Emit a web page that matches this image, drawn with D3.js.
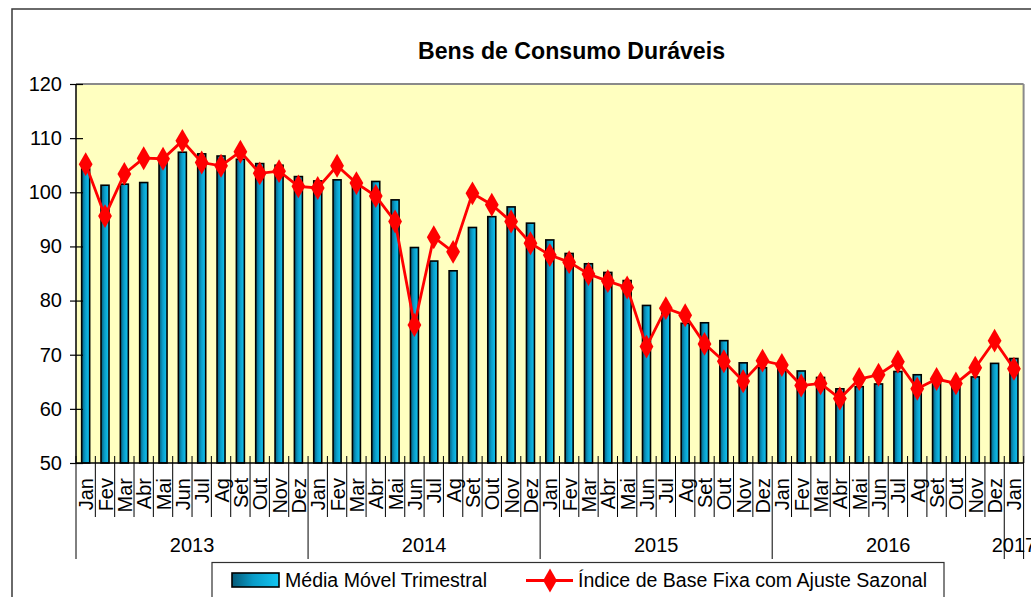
<!DOCTYPE html>
<html><head><meta charset="utf-8">
<script src="https://cdn.jsdelivr.net/npm/d3@7"></script>
<style>
html,body{margin:0;padding:0;background:#fff;}
svg{display:block;font-family:"Liberation Sans",Arial,sans-serif;}
</style></head>
<body>
<svg id="c" width="1031" height="597"></svg>
<script>
const title = "Bens de Consumo Duráveis";
const monthNames = ["Jan","Fev","Mar","Abr","Mai","Jun","Jul","Ag","Set","Out","Nov","Dez"];
const years = ["2013","2014","2015","2016","2017"];
const yTicks = [50,60,70,80,90,100,110,120];
const seriesBarName = "Média Móvel Trimestral";
const seriesLineName = "Índice de Base Fixa com Ajuste Sazonal";
const mediaMovel = [
  104.3,101.3,101.5,101.8,105.5,107.4,107.1,106.7,106.1,105.3,105.0,102.9,
  102.1,102.3,101.8,102.0,98.6,89.8,87.3,85.5,93.5,95.5,97.3,94.3,
  91.2,88.7,86.8,85.2,83.7,79.1,77.7,75.8,75.9,72.6,68.5,67.6,
  67.5,67.0,65.8,63.7,64.1,64.6,66.9,66.3,65.2,64.5,65.9,68.4,
  69.3];
const indice = [
  105.2,95.6,103.4,106.3,106.2,109.5,105.5,104.9,107.5,103.5,103.9,101.1,
  100.8,104.9,101.7,99.3,94.6,75.5,91.7,89.0,99.8,97.7,94.6,90.6,
  88.4,87.1,84.9,83.6,82.4,71.5,78.6,77.3,72.0,68.8,65.1,68.9,
  68.1,64.3,64.7,61.9,65.5,66.3,68.7,63.7,65.5,64.7,67.6,72.6,
  67.4];

// categories built from the arrays
const cats = [];
years.forEach((y,yi)=>{
  const n = yi < years.length-1 ? 12 : 1;
  for(let m=0;m<n;m++) cats.push({year:y, month:monthNames[m], i:cats.length});
});

const svg = d3.select("#c");
const L=76, R=1023.6, T=84, B=463;
const x = d3.scaleBand().domain(cats.map(d=>d.i)).range([L,R]).padding(0);
const y = d3.scaleLinear().domain([50,120]).range([B,T]);

const defs = svg.append("defs");
const g1 = defs.append("linearGradient").attr("id","barg").attr("x1","0").attr("x2","1").attr("y1","0").attr("y2","0");
g1.append("stop").attr("offset","0%").attr("stop-color","#065a78");
g1.append("stop").attr("offset","45%").attr("stop-color","#0a9cc8");
g1.append("stop").attr("offset","100%").attr("stop-color","#12c6f2");

// outer frame
svg.append("rect").attr("x",12).attr("y",9).attr("width",1200).attr("height",800)
  .attr("fill","none").attr("stroke","#3a3a3a").attr("stroke-width",1.5);

// title
svg.append("text").attr("x",571.5).attr("y",59).attr("text-anchor","middle")
  .attr("font-weight","bold").attr("font-size",23).attr("textLength",307)
  .attr("lengthAdjust","spacingAndGlyphs").text(title);

// plot area
svg.append("rect").attr("x",L).attr("y",T).attr("width",R-L).attr("height",B-T).attr("fill","#ffffc0");
svg.append("line").attr("x1",L).attr("x2",R).attr("y1",T).attr("y2",T).attr("stroke","#8a8a8a").attr("stroke-width",2);
svg.append("line").attr("x1",R).attr("x2",R).attr("y1",T).attr("y2",B).attr("stroke","#8a8a8a").attr("stroke-width",2);

// bars
const bw = 8;
svg.append("g").selectAll("rect").data(cats).join("rect")
  .attr("x",d=>x(d.i)+x.bandwidth()/2-bw/2)
  .attr("y",d=>y(mediaMovel[d.i]))
  .attr("width",bw)
  .attr("height",d=>B-y(mediaMovel[d.i]))
  .attr("fill","url(#barg)").attr("stroke","#000").attr("stroke-width",1.6);

// y axis
const yAxis = d3.axisLeft(y).tickValues(yTicks).tickSize(13).tickPadding(8).tickFormat(d3.format("d"));
const ga = svg.append("g").attr("transform",`translate(${L+7},0)`).call(yAxis);
ga.select(".domain").remove();
ga.selectAll(".tick line").attr("stroke","#000").attr("stroke-width",1.2);
ga.selectAll(".tick text").attr("font-size",20).attr("font-family","Liberation Sans, Arial, sans-serif").attr("fill","#000");
svg.append("line").attr("x1",L).attr("x2",L).attr("y1",T).attr("y2",B).attr("stroke","#000").attr("stroke-width",1.5);

// x axis baseline
svg.append("line").attr("x1",L).attr("x2",R).attr("y1",B).attr("y2",B).attr("stroke","#000").attr("stroke-width",1.5);

// month ticks and year separators
const bounds = d3.range(cats.length+1).map(k=> k<cats.length ? x(k) : R);
svg.append("g").selectAll("line").data(bounds).join("line")
  .attr("x1",d=>d).attr("x2",d=>d)
  .attr("y1",B-7)
  .attr("y2",(d,k)=> (k%12===0 || k===cats.length) ? 559 : 517)
  .attr("stroke","#000").attr("stroke-width",1);

// month labels
svg.append("g").selectAll("text").data(cats).join("text")
  .attr("transform",d=>`translate(${x(d.i)+x.bandwidth()/2+7.5},478) rotate(-90)`)
  .attr("text-anchor","end").attr("font-size",20).text(d=>d.month);

// year labels
years.forEach((yr,yi)=>{
  const first = cats.find(c=>c.year===yr), last = cats.filter(c=>c.year===yr).pop();
  const cx = (x(first.i)+x(last.i)+x.bandwidth())/2;
  svg.append("text").attr("x",cx).attr("y",552).attr("text-anchor","middle").attr("font-size",20).text(yr);
});

// line
const line = d3.line().x(d=>x(d.i)+x.bandwidth()/2).y(d=>y(indice[d.i]));
svg.append("path").datum(cats).attr("d",line).attr("fill","none").attr("stroke","#ff0000").attr("stroke-width",2.8);
const diamond = d3.symbol().type(d3.symbolDiamond).size(165);
svg.append("g").selectAll("path").data(cats).join("path")
  .attr("transform",d=>`translate(${x(d.i)+x.bandwidth()/2},${y(indice[d.i])})`)
  .attr("d",diamond).attr("fill","#ff0000");

// legend
svg.append("rect").attr("x",212).attr("y",562.5).attr("width",732).attr("height",60)
  .attr("fill","#fff").attr("stroke","#303030").attr("stroke-width",1.2);
svg.append("rect").attr("x",232).attr("y",573).attr("width",47).attr("height",14)
  .attr("fill","url(#barg)").attr("stroke","#000").attr("stroke-width",1.6);
svg.append("text").attr("x",285).attr("y",587).attr("font-size",20)
  .attr("textLength",202).attr("lengthAdjust","spacingAndGlyphs").text(seriesBarName);
svg.append("line").attr("x1",526).attr("x2",573).attr("y1",580.5).attr("y2",580.5).attr("stroke","#ff0000").attr("stroke-width",2.8);
svg.append("path").attr("transform","translate(550,580.5)").attr("d",diamond).attr("fill","#ff0000");
svg.append("text").attr("x",578).attr("y",587).attr("font-size",20)
  .attr("textLength",349).attr("lengthAdjust","spacingAndGlyphs").text(seriesLineName);
</script>
</body></html>
